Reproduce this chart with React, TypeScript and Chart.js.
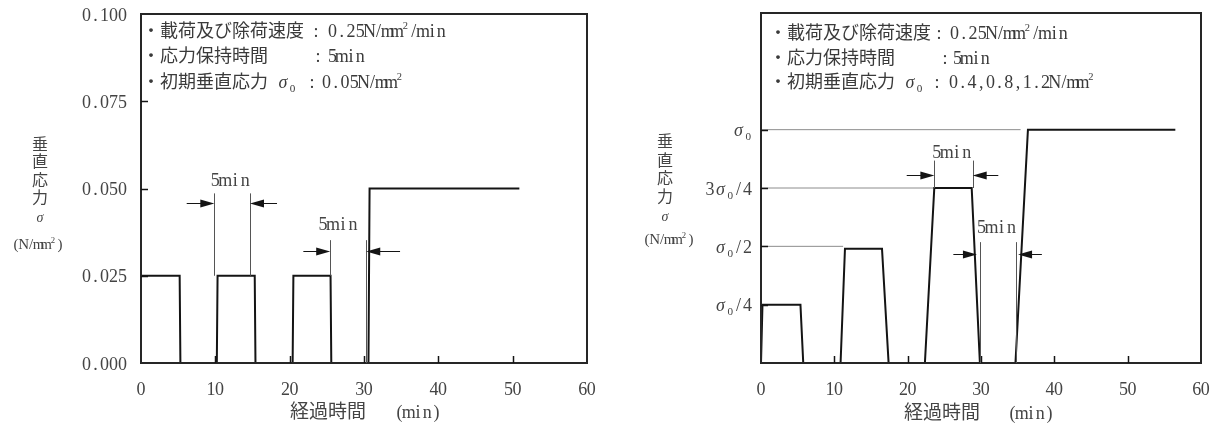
import React, { useEffect, useRef } from "react";
import { Chart, registerables } from "chart.js";
Chart.register(...registerables);

const FONT = '"Liberation Serif", "DejaVu Serif", "Noto Sans CJK JP", serif';
const TEXT = "#444";
const INK = "#141414";
const THIN = "#555";
const REF = "#8c8c8c";

// ---------- shared axis data ----------
const xTickValues = [0, 10, 20, 30, 40, 50, 60];
const xTickLabels = ["0", "10", "20", "30", "40", "50", "60"];
const xTitleMain = "経過時間";
const xTitleUnit = "(min)";
const yTitleChars = ["垂", "直", "応", "力"];
const yTitleSymbol = "σ";
const yTitleUnit = "(N/mm^2)";
const dimLabel = "5min";

// ---------- left chart data ----------
const leftTime = [0, 0, 5.2, 5.3, 10.2, 10.3, 15.3, 15.4, 20.4, 20.5, 25.5, 25.6, 30.6, 30.75, 50.9];
const leftStress = [0, 0.025, 0.025, 0, 0, 0.025, 0.025, 0, 0, 0.025, 0.025, 0, 0, 0.05, 0.05];
const leftYTickValues = [0, 0.025, 0.05, 0.075, 0.1];
const leftYTickLabels = ["0.000", "0.025", "0.050", "0.075", "0.100"];
const leftNoteLabels = ["・載荷及び除荷速度", "・応力保持時間", "・初期垂直応力 σ_0"];
const leftNoteValues = ["0.25N/mm^2/min", "5min", "0.05N/mm^2"];
const leftDimLineX = [9.86, 14.66, 25.45, 30.27];
const leftDimLineFrom = [0.025, 0.025, 0.025, 0];
const leftDimLineTo = [0.0486, 0.0486, 0.0352, 0.0352];
const leftArrowTail = [6.15, 18.3, 21.84, 34.85];
const leftArrowHead = [9.86, 14.66, 25.45, 30.3];
const leftArrowY = [0.0458, 0.0458, 0.0322, 0.0322];
const leftDimLabelX = [12.0, 26.5];
const leftDimLabelY = [0.052, 0.0395];

// ---------- right chart data (stress in units of σ0) ----------
const rightTime = [0, 0.2, 5.38, 5.76, 10.85, 11.45, 16.5, 17.4, 22.35, 23.63, 28.73, 29.85, 34.7, 36.4, 56.5];
const rightStress = [0, 0.25, 0.25, 0, 0, 0.49, 0.49, 0, 0, 0.75, 0.75, 0, 0, 1, 1];
const rightRefLevel = [1, 0.75, 0.5];
const rightRefEnd = [35.4, 23.63, 11.2];
const rightYTickValues = [0.25, 0.5, 0.75, 1];
const rightYTickLabels = ["σ_0/4", "σ_0/2", "3σ_0/4", "σ_0"];
const rightNoteLabels = ["・載荷及び除荷速度", "・応力保持時間", "・初期垂直応力 σ_0"];
const rightNoteValues = ["0.25N/mm^2/min", "5min", "0.4,0.8,1.2N/mm^2"];
const rightDimLineX = [23.64, 28.87, 29.87, 34.73];
const rightDimLineFrom = [0.75, 0.75, 0, 0];
const rightDimLineTo = [0.8675, 0.8675, 0.518, 0.518];
const rightArrowTail = [19.87, 32.36, 26.23, 38.3];
const rightArrowHead = [23.64, 28.87, 29.45, 35.05];
const rightArrowY = [0.806, 0.806, 0.466, 0.466];
const rightDimLabelX = [26.0, 32.1];
const rightDimLabelY = [0.899, 0.576];

// ---------- text helpers ----------
type Glyph = { ch: string; mode: number };
function parse(s: string): Glyph[] {
  const out: Glyph[] = [];
  let mode = 0;
  for (const ch of s) {
    if (ch === "_") { mode = 1; continue; }
    if (ch === "^") { mode = 2; continue; }
    out.push({ ch, mode });
    mode = 0;
  }
  return out;
}
function isWide(ch: string) {
  return ch.charCodeAt(0) >= 0x2e80;
}
function glyphW(g: Glyph, size: number, pitch: number) {
  if (g.mode) return size * 0.42;
  if (isWide(g.ch)) return size;
  if (g.ch === "σ") return size * 0.66;
  return pitch;
}
function drawText(
  ctx: CanvasRenderingContext2D,
  s: string,
  x: number,
  y: number,
  size: number,
  align: "left" | "right" | "center",
  pitch?: number,
  color: string = TEXT
) {
  const p = pitch ?? size * 0.5;
  const gl = parse(s);
  const ws = gl.map((g) => glyphW(g, size, p));
  const total = ws.reduce((a, b) => a + b, 0);
  let cx = align === "left" ? x : align === "right" ? x - total : x - total / 2;
  ctx.save();
  ctx.fillStyle = color;
  ctx.textBaseline = "middle";
  ctx.textAlign = "center";
  gl.forEach((g, i) => {
    let fs = size;
    let dy = 0;
    if (g.mode === 1) { fs = size * 0.62; dy = size * 0.32; }
    if (g.mode === 2) { fs = size * 0.58; dy = -size * 0.3; }
    const italic = g.ch === "σ" ? "italic " : "";
    ctx.font = `${italic}${fs}px ${FONT}`;
    ctx.fillText(g.ch, cx + ws[i] / 2, y + dy);
    cx += ws[i];
  });
  ctx.restore();
}

function drawArrow(ctx: CanvasRenderingContext2D, x0: number, x1: number, y: number) {
  const dir = x1 > x0 ? 1 : -1;
  ctx.save();
  ctx.strokeStyle = INK;
  ctx.fillStyle = INK;
  ctx.lineWidth = 1;
  ctx.beginPath();
  ctx.moveTo(x0, y);
  ctx.lineTo(x1 - dir * 10, y);
  ctx.stroke();
  ctx.beginPath();
  ctx.moveTo(x1, y);
  ctx.lineTo(x1 - dir * 14, y - 4);
  ctx.lineTo(x1 - dir * 14, y + 4);
  ctx.closePath();
  ctx.fill();
  ctx.restore();
}

type Layout = {
  yTickLabels: string[];
  yTickValues: number[];
  yLabelRight: number;
  yLabelPitch: number;
  noteLabels: string[];
  noteValues: string[];
  noteX: number;
  noteY: number[];
  colonX: number[];
  valueX: number[];
  yTitleX: number;
  yTitleY: number[];
  sigmaY: number;
  unitX: number;
  unitY: number;
  xTitleX: number;
  xUnitX: number;
  xTitleY: number;
  dimLineX: number[];
  dimLineFrom: number[];
  dimLineTo: number[];
  arrowTail: number[];
  arrowHead: number[];
  arrowY: number[];
  dimLabelX: number[];
  dimLabelY: number[];
};

function overlay(L: Layout) {
  return {
    id: "overlay",
    afterDraw(chart: any) {
      const ctx: CanvasRenderingContext2D = chart.ctx;
      const xs = chart.scales.x;
      const ys = chart.scales.y;
      const a = chart.chartArea;
      ctx.save();
      // frame
      ctx.strokeStyle = "#262626";
      ctx.lineWidth = 2;
      ctx.strokeRect(a.left, a.top, a.right - a.left, a.bottom - a.top);
      // inward ticks
      ctx.lineWidth = 1.5;
      ctx.strokeStyle = INK;
      xTickValues.forEach((v) => {
        if (v === xs.min || v === xs.max) return;
        const px = Math.round(xs.getPixelForValue(v)) + 0.5;
        ctx.beginPath();
        ctx.moveTo(px, a.bottom);
        ctx.lineTo(px, a.bottom - 7);
        ctx.stroke();
      });
      L.yTickValues.forEach((v) => {
        if (v === ys.min || v === ys.max) return;
        const py = Math.round(ys.getPixelForValue(v)) + 0.5;
        ctx.beginPath();
        ctx.moveTo(a.left, py);
        ctx.lineTo(a.left + 7, py);
        ctx.stroke();
      });
      // dimension lines
      ctx.strokeStyle = THIN;
      ctx.lineWidth = 1;
      L.dimLineX.forEach((v, i) => {
        const px = Math.round(xs.getPixelForValue(v)) + 0.5;
        ctx.beginPath();
        ctx.moveTo(px, ys.getPixelForValue(L.dimLineFrom[i]));
        ctx.lineTo(px, ys.getPixelForValue(L.dimLineTo[i]));
        ctx.stroke();
      });
      ctx.restore();
      L.arrowTail.forEach((v, i) => {
        drawArrow(ctx, xs.getPixelForValue(v), xs.getPixelForValue(L.arrowHead[i]), Math.round(ys.getPixelForValue(L.arrowY[i])) + 0.5);
      });
      L.dimLabelX.forEach((v, i) => {
        drawText(ctx, dimLabel, xs.getPixelForValue(v), ys.getPixelForValue(L.dimLabelY[i]), 18, "center", 10);
      });
      // tick labels
      xTickValues.forEach((v, i) => {
        drawText(ctx, xTickLabels[i], xs.getPixelForValue(v), 390, 18, "center", 8.5);
      });
      L.yTickValues.forEach((v, i) => {
        drawText(ctx, L.yTickLabels[i], L.yLabelRight, ys.getPixelForValue(v) + 2, 18, "right", L.yLabelPitch);
      });
      // notes
      L.noteLabels.forEach((s, i) => {
        drawText(ctx, s, L.noteX, L.noteY[i], 18, "left", 9, "#3a3a3a");
        drawText(ctx, ":", L.colonX[i], L.noteY[i], 18, "center", 9, "#3a3a3a");
        drawText(ctx, L.noteValues[i], L.valueX[i], L.noteY[i], 18, "left", 9.2, "#3a3a3a");
      });
      // axis titles
      yTitleChars.forEach((c, i) => {
        drawText(ctx, c, L.yTitleX, L.yTitleY[i], 16, "center");
      });
      drawText(ctx, yTitleSymbol, L.yTitleX, L.sigmaY, 14, "center");
      drawText(ctx, yTitleUnit, L.unitX, L.unitY, 15, "center", 7.5);
      drawText(ctx, xTitleMain, L.xTitleX, L.xTitleY, 19, "left");
      drawText(ctx, xTitleUnit, L.xUnitX, L.xTitleY, 18, "left", 9.2);
    },
  };
}

function buildChart(
  canvas: HTMLCanvasElement,
  time: number[],
  stress: number[],
  yMax: number,
  yAxisWidth: number,
  top: number,
  refLevels: number[],
  refEnds: number[],
  L: Layout
) {
  const datasets: any[] = [
    {
      data: time.map((t, i) => ({ x: t, y: stress[i] })),
      borderColor: INK,
      borderWidth: 2,
      pointRadius: 0,
      tension: 0,
      fill: false,
    },
  ];
  refLevels.forEach((lvl, i) => {
    datasets.push({
      data: [
        { x: 0, y: lvl },
        { x: refEnds[i], y: lvl },
      ],
      borderColor: REF,
      borderWidth: 1,
      pointRadius: 0,
      fill: false,
    });
  });
  return new Chart(canvas, {
    type: "line",
    data: { datasets },
    options: {
      responsive: false,
      animation: false,
      devicePixelRatio: 1,
      layout: { padding: { left: 0, right: 27, top, bottom: 0 } },
      plugins: { legend: { display: false }, tooltip: { enabled: false } },
      scales: {
        x: {
          type: "linear",
          min: 0,
          max: 60,
          ticks: { display: false },
          grid: { display: false },
          border: { display: false },
          afterFit: (s: any) => {
            s.height = 69;
          },
        },
        y: {
          type: "linear",
          min: 0,
          max: yMax,
          ticks: { display: false },
          grid: { display: false },
          border: { display: false },
          afterFit: (s: any) => {
            s.width = yAxisWidth;
          },
        },
      },
    } as any,
    plugins: [overlay(L) as any],
  });
}

const leftLayout: Layout = {
  yTickLabels: leftYTickLabels,
  yTickValues: leftYTickValues,
  yLabelRight: 127,
  yLabelPitch: 9,
  noteLabels: leftNoteLabels,
  noteValues: leftNoteValues,
  noteX: 142,
  noteY: [32, 57, 83],
  colonX: [316, 318, 312],
  valueX: [328, 328, 322],
  yTitleX: 40,
  yTitleY: [146, 163, 182, 199],
  sigmaY: 218,
  unitX: 38,
  unitY: 245,
  xTitleX: 290,
  xUnitX: 395,
  xTitleY: 413,
  dimLineX: leftDimLineX,
  dimLineFrom: leftDimLineFrom,
  dimLineTo: leftDimLineTo,
  arrowTail: leftArrowTail,
  arrowHead: leftArrowHead,
  arrowY: leftArrowY,
  dimLabelX: leftDimLabelX,
  dimLabelY: leftDimLabelY,
};

const rightLayout: Layout = {
  yTickLabels: rightYTickLabels,
  yTickValues: rightYTickValues,
  yLabelRight: 138,
  yLabelPitch: 9,
  noteLabels: rightNoteLabels,
  noteValues: rightNoteValues,
  noteX: 155,
  noteY: [34, 59, 83],
  colonX: [325, 331, 323],
  valueX: [336, 339, 335],
  yTitleX: 51,
  yTitleY: [143, 162, 180, 198],
  sigmaY: 217,
  unitX: 55,
  unitY: 240,
  xTitleX: 290,
  xUnitX: 394,
  xTitleY: 414,
  dimLineX: rightDimLineX,
  dimLineFrom: rightDimLineFrom,
  dimLineTo: rightDimLineTo,
  arrowTail: rightArrowTail,
  arrowHead: rightArrowHead,
  arrowY: rightArrowY,
  dimLabelX: rightDimLabelX,
  dimLabelY: rightDimLabelY,
};

function LeftChart() {
  const ref = useRef<HTMLCanvasElement>(null);
  useEffect(() => {
    const c = buildChart(ref.current!, leftTime, leftStress, 0.1, 141, 14, [], [], leftLayout);
    return () => c.destroy();
  }, []);
  return <canvas ref={ref} width={614} height={432} style={{ position: "absolute", left: 0, top: 0, width: 614, height: 432 }} />;
}

function RightChart() {
  const ref = useRef<HTMLCanvasElement>(null);
  useEffect(() => {
    const c = buildChart(ref.current!, rightTime, rightStress, 1.5, 147, 13, rightRefLevel, rightRefEnd, rightLayout);
    return () => c.destroy();
  }, []);
  return <canvas ref={ref} width={614} height={432} style={{ position: "absolute", left: 614, top: 0, width: 614, height: 432 }} />;
}

export default function App() {
  return (
    <div style={{ position: "fixed", left: 0, top: 0, width: 1228, height: 432, background: "#fff", overflow: "hidden" }}>
      <LeftChart />
      <RightChart />
    </div>
  );
}
